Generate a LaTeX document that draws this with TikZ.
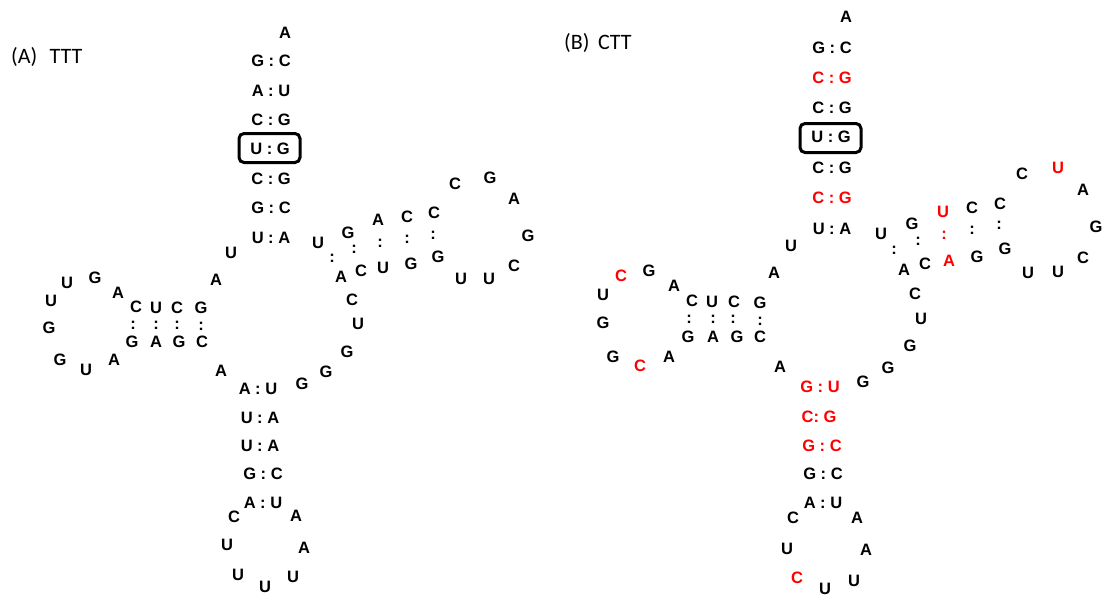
\documentclass[tikz,border=0pt]{standalone}
\usepackage{fontspec}
\setmainfont{Liberation Sans}
\newfontfamily\labelfont{Carlito}
\begin{document}
\begin{tikzpicture}[x=1pt,y=-1pt,
  nt/.style={inner sep=0pt,font=\fontsize{16.5}{17}\selectfont\bfseries},
  ntr/.style={nt,text=red},
  panel/.style={inner sep=0pt,anchor=base west,font=\labelfont\fontsize{22}{24}\selectfont},
  pairbox/.style={draw=black,line width=3pt,rounded corners=5pt}]
\useasboundingbox (0,0) rectangle (1103,597);
% panel labels
\node[panel] (labA) at (11,63) {(A)\,\, TTT};
\node[panel] (labB) at (564,49) {(B)\, CTT};
% ---------- (A) ----------
\foreach \x/\y/\t [count=\i] in {
 285/33/A, 271/61/{G : C}, 271/91/{A : U}, 271/120/{C : G}, 271/179/{C : G}, 271/208/{G : C}, 271/238/{U : A},
 231/253/U, 216/280/A,
 136/307/C, 156/308/U, 177/308/C, 201/308/G,
 133/325/:, 156/325/:, 177/325/:, 201/326/:,
 132/342/G, 156/342/A, 179/342/G, 202/342/C,
 118/293/A, 95/278/G, 67/283/U, 51/301/U, 49/328/G, 60/360/G, 86/370/U, 114/360/A,
 221/371/A,
 258/389/{A : U}, 260/418/{U : A}, 260/446/{U : A}, 263/474/{G : C}, 263/503/{A : U},
 234/517/C, 227/545/U, 238/575/U, 265/587/U, 293/577/U, 304/548/A, 296/516/A,
 302/384/G, 326/372/G, 347/352/G, 358/324/U, 352/300/C,
 341/277/A, 361/271/C, 383/268/U, 411/264/G, 438/257/G,
 318/243/U, 332/258/:, 348/233/G, 354/249/:, 378/220/A, 380/243/:, 407/217/C, 407/239/:, 434/213/C, 433/235/:,
 455/184/C, 490/178/G, 514/199/A, 528/236/G, 514/266/C, 489/279/U, 461/279/U}
 \node[nt] (a\i) at (\x,\y) {\t};
\node[nt] (aUG) at (270,149) {U : G};
\node[pairbox,minimum width=61pt,minimum height=29pt] (boxA) at (269.5,148) {};
% ---------- (B) ----------
\foreach \x/\y/\t [count=\i] in {
 846/17/A, 832/48/{G : C}, 832/108/{C : G}, 832/168/{C : G}, 832/229/{U : A},
 791/246/U, 774/273/A,
 692/301/C, 712/302/U, 734/302/C, 760/303/G,
 689/319/:, 713/319/:, 733/319/:, 760/321/:,
 688/337/G, 713/337/A, 737/337/G, 760/337/C,
 674/286/A, 649/271/G, 603/295/U, 603/323/G, 613/357/G, 669/357/A,
 780/367/A,
 823/474/{G : C}, 823/503/{A : U},
 793/518/C, 787/549/U, 825/589/U, 854/581/U, 866/550/A, 857/518/A,
 863/382/G, 888/368/G, 910/346/G, 921/319/U, 915/294/C,
 904/270/A, 925/264/C, 977/257/G, 1005/249/G,
 881/234/U, 894/250/:, 912/224/G, 918/241/:, 972/208/C, 972/230/:, 1000/204/C, 999/225/:,
 1022/174/C, 1083/190/A, 1096/227/G, 1083/258/C, 1058/272/U, 1028/273/U}
 \node[nt] (b\i) at (\x,\y) {\t};
\foreach \x/\y/\t [count=\i] in {
 832/78/{C : G}, 832/198/{C : G},
 621/276/C, 640/366/C,
 820/387/{G : U}, 819/417/{C: G}, 822/446/{G : C},
 797/578/C,
 949/261/A, 943/212/U, 944/235/:, 1058/168/U}
 \node[ntr] (r\i) at (\x,\y) {\t};
\node[nt] (bUG) at (831,137) {U : G};
\node[pairbox,minimum width=61pt,minimum height=29pt] (boxB) at (830.5,138) {};
\end{tikzpicture}
\end{document}
